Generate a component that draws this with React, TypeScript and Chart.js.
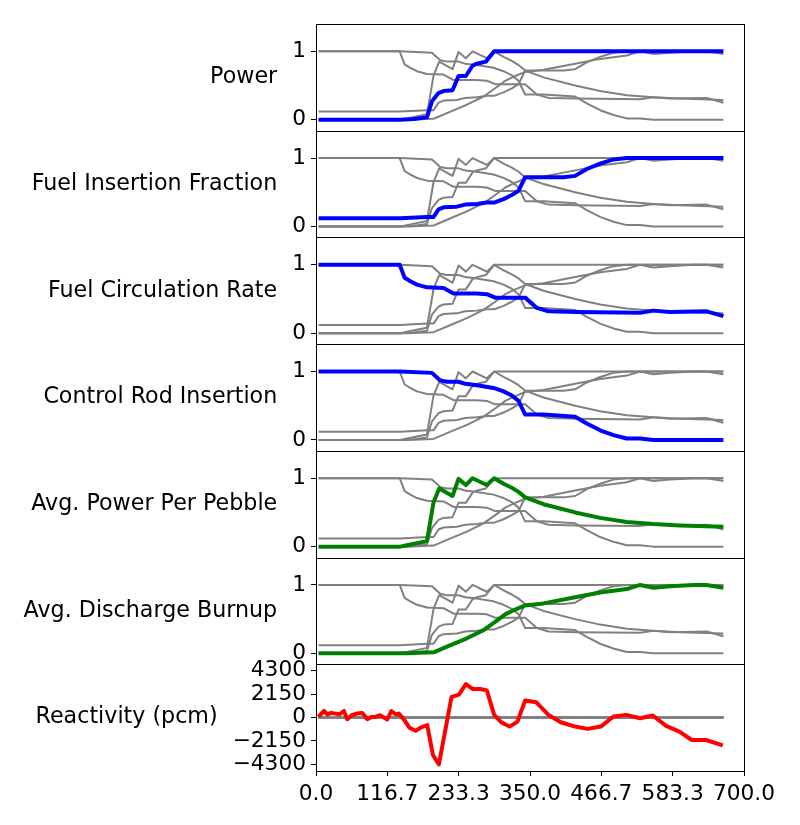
import React, { useEffect, useRef } from "react";
import { Chart, registerables } from "chart.js";

Chart.register(...registerables);

// ---------- Data ----------
const X_TICKS = [0, 116.7, 233.3, 350.0, 466.7, 583.3, 700.0];
const UNIT_TICKS = [0, 1];
const RX_TICKS = [-4300, -2150, 0, 2150, 4300];

const PANEL_LABELS = [
  "Power",
  "Fuel Insertion Fraction",
  "Fuel Circulation Rate",
  "Control Rod Insertion",
  "Avg. Power Per Pebble",
  "Avg. Discharge Burnup",
  "Reactivity (pcm)",
];

const POWER_T = [4.3, 137.8, 160, 181.4, 189.6, 200.4, 208.6, 223.3, 233.1, 245.1, 256.0, 263.1, 277.8, 291.4, 666.2];
const POWER_V = [0, 0, 0.01, 0.035, 0.27, 0.39, 0.42, 0.43, 0.64, 0.64, 0.79, 0.82, 0.85, 1.0, 1.0];

const FUEL_INS_T = [4.3, 137.8, 181.4, 192.3, 200.4, 208.6, 230.4, 244.0, 263.1, 279.4, 291.4, 306.7, 320.3, 331.2, 342.1, 372.1, 404.8, 423.8, 442.9, 464.7, 486.5, 508.3, 666.2];
const FUEL_INS_V = [0.12, 0.12, 0.14, 0.14, 0.25, 0.28, 0.29, 0.32, 0.33, 0.35, 0.35, 0.40, 0.46, 0.52, 0.72, 0.72, 0.72, 0.74, 0.84, 0.92, 0.98, 1.0, 1.0];

const CIRC_T = [4.3, 136.8, 145.0, 154.2, 165.1, 181.4, 208.6, 225.0, 263.1, 279.4, 293.0, 342.1, 361.2, 380.2, 426.5, 530.0, 551.8, 579.0, 639.0, 666.2];
const CIRC_V = [1.0, 1.0, 0.81, 0.76, 0.71, 0.67, 0.66, 0.58, 0.58, 0.57, 0.52, 0.52, 0.37, 0.32, 0.31, 0.30, 0.33, 0.31, 0.32, 0.25];

const CROD_T = [4.3, 137.8, 189.6, 203.2, 214.1, 233.1, 244.0, 263.1, 290.3, 306.7, 320.3, 331.2, 342.1, 372.1, 423.8, 442.9, 464.7, 486.5, 508.3, 530.0, 551.8, 666.2];
const CROD_V = [1.0, 1.0, 0.98, 0.87, 0.85, 0.85, 0.82, 0.80, 0.76, 0.71, 0.65, 0.57, 0.37, 0.37, 0.34, 0.24, 0.14, 0.07, 0.02, 0.02, 0.0, 0.0];

const PEBBLE_T = [4.3, 137.8, 148.7, 181.4, 192.3, 201.5, 223.3, 233.1, 245.1, 256.0, 279.4, 291.4, 306.7, 320.3, 331.2, 342.1, 372.1, 423.8, 464.7, 508.3, 551.8, 595.4, 666.2];
const PEBBLE_V = [0, 0, 0.02, 0.08, 0.65, 0.85, 0.74, 0.99, 0.90, 1.0, 0.90, 1.0, 0.92, 0.86, 0.80, 0.72, 0.62, 0.50, 0.42, 0.36, 0.33, 0.31, 0.29];

const BURNUP_T = [4.3, 148.7, 192.3, 220.0, 246.8, 274.0, 293.0, 309.4, 325.7, 342.1, 372.1, 423.8, 464.7, 508.3, 530.0, 551.8, 579.0, 617.2, 639.0, 666.2];
const BURNUP_V = [0, 0, 0.015, 0.12, 0.22, 0.34, 0.46, 0.57, 0.64, 0.70, 0.73, 0.82, 0.89, 0.94, 1.0, 0.96, 0.98, 1.0, 1.0, 0.96];

const RX_T = [3.8, 13.1, 18.5, 25, 32.1, 38.7, 45.7, 51.2, 58.3, 66.5, 75.7, 83.9, 91, 97.5, 104.6, 110.5, 116.6, 123.1, 130.2, 135.6, 143.8, 153.1, 162.9, 172, 181.9, 191.2, 201, 221.7, 233.7, 245.1, 256.6, 268.5, 279.4, 291.4, 302.8, 316.5, 329.5, 342, 360, 380.2, 400.4, 423.8, 444, 465.8, 486.5, 507.2, 530.1, 550.8, 572.6, 594.4, 614.6, 638, 665.3];
const RX_V = [60, 600, 300, 420, 360, 300, 600, -150, 210, 360, 420, -150, 60, 60, 210, 30, -180, 600, 300, 360, -180, -940, -1210, -900, -700, -3420, -4300, 1900, 2100, 3070, 2610, 2610, 2490, 245, -430, -830, -370, 1565, 1410, 245, -430, -830, -1040, -830, 92, 245, -60, 184, -770, -1290, -2060, -2060, -2550];

const SERIES = [
  [POWER_T, POWER_V],
  [FUEL_INS_T, FUEL_INS_V],
  [CIRC_T, CIRC_V],
  [CROD_T, CROD_V],
  [PEBBLE_T, PEBBLE_V],
  [BURNUP_T, BURNUP_V],
];
const HIGHLIGHT_COLORS = ["#0000ff", "#0000ff", "#0000ff", "#0000ff", "#008000", "#008000"];

// ---------- Styling ----------
const FONT_FAMILY = "DejaVu Sans";
const FONT_SIZE = 21.7;
const LABEL_FONT_SIZE = 22.2;
const TICK_LEN = 5;
const TICK_PAD = 5;
const LABEL_GAP = 15;

const toPoints = (t: number[], v: number[]) => t.map((x, i) => ({ x, y: v[i] }));

const panelDecor = {
  id: "panelDecor",
  afterDraw(chart: any) {
    const { ctx, chartArea } = chart;
    ctx.save();
    PANEL_LABELS.forEach((label, i) => {
      const sc = chart.scales["y" + i];
      if (!sc) return;
      const l = Math.round(chartArea.left) + 0.5;
      const r = Math.round(chartArea.right) + 0.5;
      const top = Math.round(sc.top) + 0.5;
      const bottom = Math.round(sc.bottom) + 0.5;
      ctx.strokeStyle = "#000";
      ctx.lineWidth = 1;
      ctx.strokeRect(l, top, r - l, bottom - top);
      ctx.font = `${FONT_SIZE}px "${FONT_FAMILY}"`;
      let maxW = 0;
      sc.ticks.forEach((t: any) => {
        const w = ctx.measureText(String(t.label)).width;
        if (w > maxW) maxW = w;
      });
      const x = chartArea.left - TICK_LEN - TICK_PAD - maxW - LABEL_GAP;
      ctx.font = `${LABEL_FONT_SIZE}px "${FONT_FAMILY}"`;
      ctx.fillStyle = "#000";
      ctx.textAlign = "right";
      ctx.textBaseline = "middle";
      ctx.fillText(label, x, (sc.top + sc.bottom) / 2);
    });
    ctx.restore();
  },
};

export default function App() {
  const ref = useRef<HTMLCanvasElement>(null);

  useEffect(() => {
    if (!ref.current) return;
    Chart.defaults.font.family = FONT_FAMILY;

    const datasets: any[] = [];
    for (let p = 0; p < 7; p++) {
      SERIES.forEach(([t, v]) => {
        datasets.push({
          data: toPoints(t, v),
          yAxisID: "y" + p,
          borderColor: "#808080",
          borderWidth: 2,
          pointRadius: 0,
          tension: 0,
          borderJoinStyle: "round",
          order: 1,
        });
      });
      const hl = p < 6 ? toPoints(SERIES[p][0], SERIES[p][1]) : toPoints(RX_T, RX_V);
      datasets.push({
        data: hl,
        yAxisID: "y" + p,
        borderColor: p < 6 ? HIGHLIGHT_COLORS[p] : "#ff0000",
        borderWidth: 4,
        pointRadius: 0,
        tension: 0,
        borderJoinStyle: "round",
        order: 0,
      });
    }

    const tickFont = { family: FONT_FAMILY, size: FONT_SIZE };
    const scales: any = {
      x: {
        type: "linear",
        position: "bottom",
        min: 0,
        max: 700,
        afterBuildTicks: (s: any) => {
          s.ticks = X_TICKS.map((v) => ({ value: v }));
        },
        afterFit: (s: any) => {
          s.height = 54;
        },
        ticks: {
          font: tickFont,
          color: "#000",
          padding: TICK_PAD,
          maxRotation: 0,
          autoSkip: false,
          callback: (v: any) => Number(v).toFixed(1),
        },
        grid: { drawOnChartArea: false, drawTicks: true, tickLength: TICK_LEN, color: "#000" },
        border: { display: false },
      },
    };
    // left-stacked axes are laid out last-defined-first, so define bottom panel first
    for (let p = 6; p >= 0; p--) {
      const isRx = p === 6;
      scales["y" + p] = {
        type: "linear",
        position: "left",
        stack: "panels",
        stackWeight: 1,
        offset: false,
        min: isRx ? -4900 : -0.16,
        max: isRx ? 4880 : 1.4,
        afterBuildTicks: (s: any) => {
          s.ticks = (isRx ? RX_TICKS : UNIT_TICKS).map((v) => ({ value: v }));
        },
        afterFit: (s: any) => {
          s.width = 316;
        },
        ticks: {
          font: tickFont,
          color: "#000",
          padding: TICK_PAD,
          autoSkip: false,
          callback: (v: any) => (v < 0 ? "\u2212" + String(-v) : String(v)),
        },
        grid: { drawOnChartArea: false, drawTicks: true, tickLength: TICK_LEN, color: "#000" },
        border: { display: false },
      };
    }

    const chart = new Chart(ref.current, {
      type: "line",
      data: { datasets },
      options: {
        responsive: false,
        animation: false,
        layout: { padding: { left: 0, top: 24, right: 56, bottom: 0 } },
        plugins: { legend: { display: false }, tooltip: { enabled: false } },
        scales,
      },
      plugins: [panelDecor],
    });
    return () => chart.destroy();
  }, []);

  return (
    <div style={{ position: "absolute", left: 0, top: 0, width: 800, height: 825, background: "#fff" }}>
      <canvas ref={ref} width={800} height={825} style={{ width: 800, height: 825, display: "block" }} />
    </div>
  );
}
